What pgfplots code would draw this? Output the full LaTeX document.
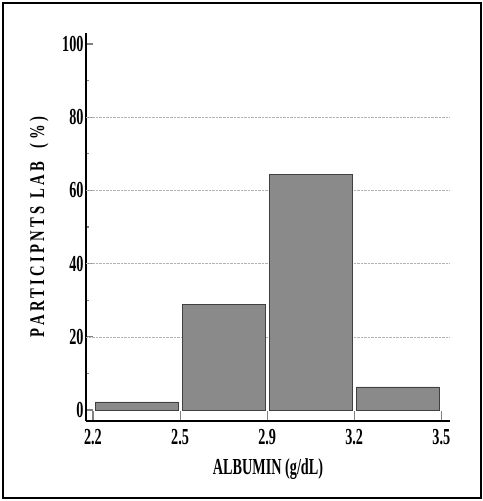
\documentclass[border=0pt]{standalone}
\usepackage{fontspec}
\setmainfont{Liberation Serif}[FakeStretch=0.62]
\newfontfamily\ylabfont{Liberation Serif}[FakeStretch=0.7, LetterSpace=16]
\usepackage{pgfplots}
\pgfplotsset{compat=1.18}
\definecolor{barfill}{HTML}{8A8A8A}
\begin{document}
\begin{tikzpicture}[x=1bp,y=1bp]
\path[use as bounding box] (0,0) rectangle (483,501);
\draw[line width=1.6bp] (3,3) rectangle (481,498);
\begin{axis}[
  at={(86bp,80bp)}, anchor=south west,
  width=364bp, height=388bp, scale only axis,
  xmin=-0.08, xmax=4.1, ymin=-3, ymax=103,
  axis lines*=left,
  axis line style={line width=1.3bp},
  tick align=inside,
  /pgf/number format/assume math mode=true,
  xtick={0,1,2,3,4},
  xticklabels={2.2,2.5,2.9,3.2,3.5},
  ytick={0,20,40,60,80,100},
  minor ytick={10,30,50,70,90},
  major tick length=7bp,
  minor tick length=3bp,
  xtick style={line width=1.1bp, /pgfplots/major tick length=10bp},
  ytick style={line width=1.1bp},
  extra y ticks={20,40,60,80},
  extra y tick labels={},
  extra y tick style={grid=major, major tick length=0pt},
  grid style={densely dotted, gray!60, line width=0.6bp},
  xticklabel style={font=\bfseries\fontsize{23}{23}\selectfont, yshift=-5bp},
  yticklabel style={font=\bfseries\fontsize{23}{23}\selectfont, xshift=1bp},
  xlabel={ALBUMIN (g/dL)},
  ylabel={\ylabfont PARTICIPNTS LAB \ (\%\,)},
  xlabel style={font=\bfseries\fontsize{23}{23}\selectfont, at={(axis description cs:0.5,-0.125)}, anchor=center},
  ylabel style={font=\bfseries\fontsize{21}{21}\selectfont, at={(axis description cs:-0.129,0.5)}, anchor=center},
  clip=false,
]
\addplot[ybar, bar width=0.95, fill=barfill, draw=black!75, line width=0.6bp]
  coordinates {(0.5,2.2) (1.5,28.8) (2.5,64.4) (3.5,6.3)};
\end{axis}
\end{tikzpicture}
\end{document}
